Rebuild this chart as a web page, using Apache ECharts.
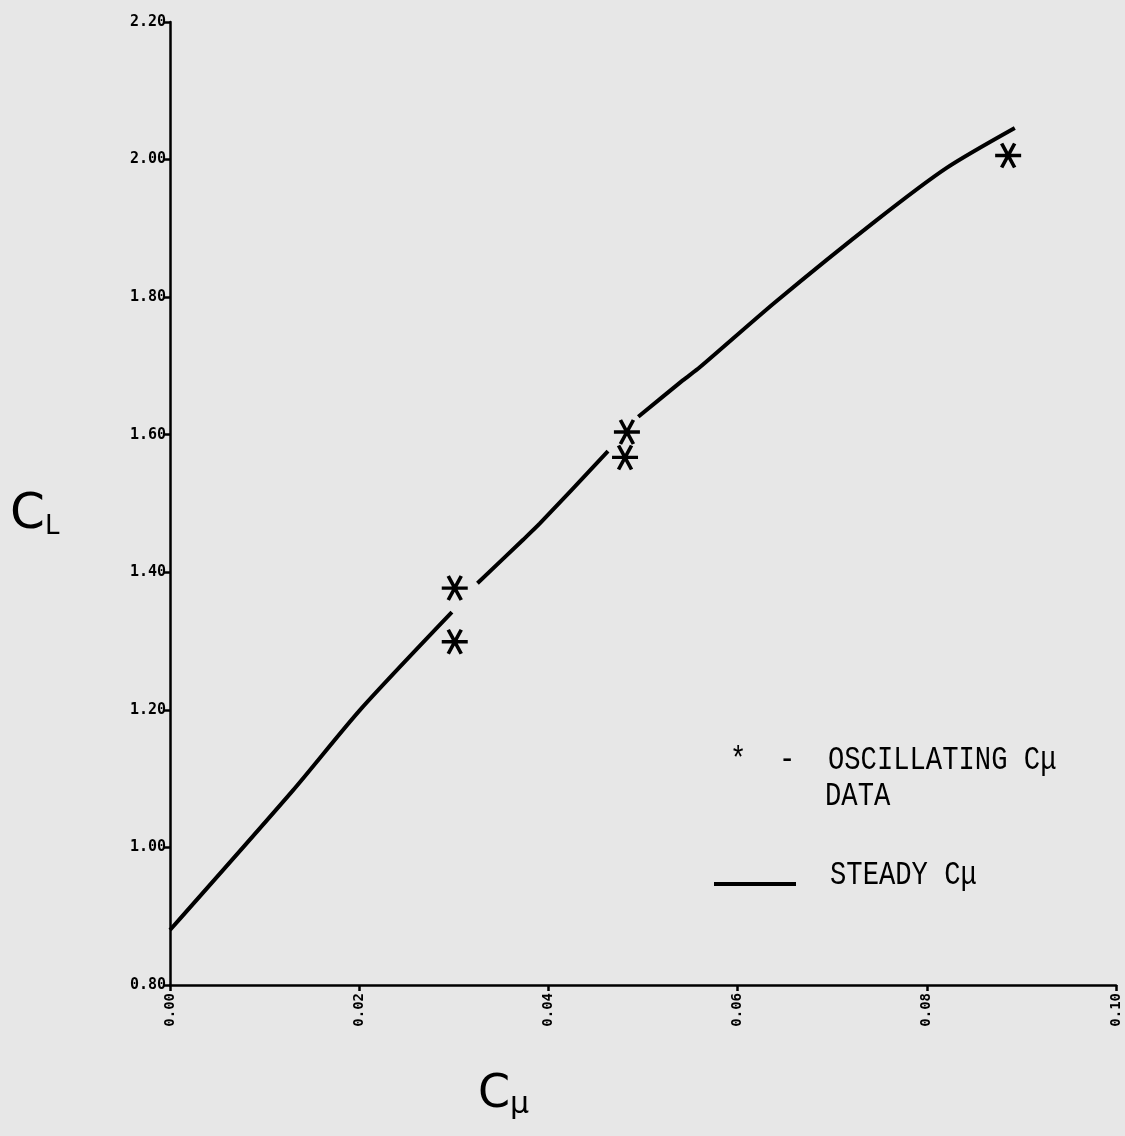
<!DOCTYPE html>
<html>
<head>
<meta charset="utf-8">
<script src="https://cdn.jsdelivr.net/npm/echarts@6/dist/echarts.min.js"></script>
<style>
html,body{margin:0;padding:0;background:#e7e7e7;}
#c{width:1125px;height:1136px;}
</style>
</head>
<body>
<div id="c"></div>
<script>
// Steady Cmu curve (gaps where the plotter pen broke near the data points)
const steadyX = [0.0000, 0.0130, 0.0201, 0.0298, null, 0.0325, 0.0373, 0.0391, 0.0463, null, 0.0495, 0.0542, 0.0560, 0.0640, 0.0747, 0.0821, 0.0893];
const steadyY = [0.880, 1.083, 1.200, 1.342, null, 1.384, 1.447, 1.471, 1.576, null, 1.626, 1.679, 1.698, 1.793, 1.912, 1.988, 2.046];
// Oscillating Cmu data
const oscX = [0.0301, 0.0301, 0.0483, 0.0481, 0.0886];
const oscY = [1.377, 1.299, 1.604, 1.567, 2.006];
// Axis ticks
const xTicks = [0.00, 0.02, 0.04, 0.06, 0.08, 0.10];
const yTicks = [0.80, 1.00, 1.20, 1.40, 1.60, 1.80, 2.00, 2.20];

const steadyData = steadyX.map((x, i) => x === null ? ['-', '-'] : [x, steadyY[i]]);
const oscData = oscX.map((x, i) => [x, oscY[i]]);

const chart = echarts.init(document.getElementById('c'));
const axisCommon = {
  axisLine: {lineStyle: {color: '#000', width: 2.5}},
  axisTick: {show: true, inside: false, length: 6, lineStyle: {color: '#000', width: 2.5}},
  splitLine: {show: false},
};
const starPath = 'path://M-10,0 L10,0 M-5,-8.66 L5,8.66 M5,-8.66 L-5,8.66';
chart.setOption({
  backgroundColor: '#e7e7e7',
  animation: false,
  grid: {left: 170, right: 9, top: 22, bottom: 151, containLabel: false},
  xAxis: Object.assign({
    type: 'value', min: xTicks[0], max: xTicks[xTicks.length - 1], interval: 0.02,
    axisLabel: {rotate: 90, color: '#000', fontFamily: 'DejaVu Sans Mono', fontWeight: 'bold', fontSize: 14,
      margin: 8, formatter: v => v.toFixed(2)}
  }, axisCommon),
  yAxis: Object.assign({
    type: 'value', min: yTicks[0], max: yTicks[yTicks.length - 1], interval: 0.2,
    axisLabel: {color: '#000', fontFamily: 'DejaVu Sans Mono', fontWeight: 'bold', fontSize: 15,
      margin: 4, formatter: v => v.toFixed(2)}
  }, axisCommon),
  series: [
    {type: 'line', name: 'STEADY', data: steadyData, showSymbol: false, connectNulls: false, smooth: 0.25,
      lineStyle: {color: '#000', width: 4}},
    {type: 'scatter', name: 'OSC', data: oscData, symbol: starPath, symbolSize: [26, 24],
      itemStyle: {color: 'rgba(0,0,0,0)', borderColor: '#000', borderWidth: 3.5, opacity: 1}}
  ],
  graphic: [
    {type: 'text', left: 10, top: 490, style: {
      text: '{c|C}{s|L}', rich: {
        c: {fontFamily: 'DejaVu Sans', fontSize: 50, fill: '#000', fontWeight: 'normal'},
        s: {fontFamily: 'DejaVu Sans', fontSize: 26, fill: '#000', verticalAlign: 'bottom', padding: [22, 0, 0, 0]}
      }}},
    {type: 'text', left: 478, top: 1072, style: {
      text: '{c|C}{s|μ}', rich: {
        c: {fontFamily: 'DejaVu Sans', fontSize: 46, fill: '#000'},
        s: {fontFamily: 'DejaVu Sans', fontSize: 30, fill: '#000', padding: [20, 0, 0, 0]}
      }}},
    {type: 'text', x: 730, y: 743, scaleX: 0.8, style: {
      text: '*  -  OSCILLATING Cμ', fontFamily: 'Liberation Mono', fontSize: 34, fill: '#000'}},
    {type: 'text', x: 825, y: 779, scaleX: 0.8, style: {
      text: 'DATA', fontFamily: 'Liberation Mono', fontSize: 34, fill: '#000'}},
    {type: 'line', shape: {x1: 714, y1: 884, x2: 796, y2: 884}, style: {stroke: '#000', lineWidth: 4}},
    {type: 'text', x: 830, y: 858, scaleX: 0.8, style: {
      text: 'STEADY Cμ', fontFamily: 'Liberation Mono', fontSize: 34, fill: '#000'}}
  ]
});
</script>
</body>
</html>
